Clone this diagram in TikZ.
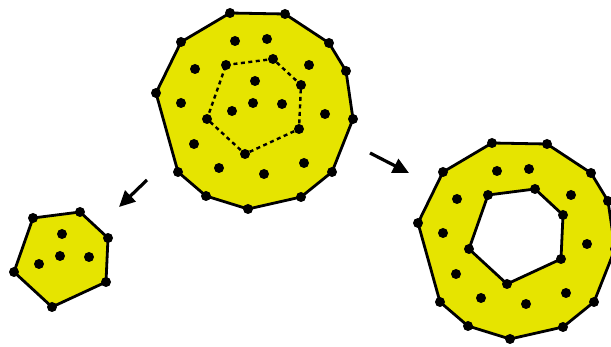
\documentclass[tikz,border=0pt]{standalone}
\definecolor{peelyellow}{RGB}{230,228,0}
\usepackage{tikz}
\usetikzlibrary{arrows.meta}

\begin{document}
\begin{tikzpicture}[x=1pt,y=-1pt,
    dot/.style={circle, fill=black, inner sep=0pt, minimum size=10pt},
    hullline/.style={line width=2.8pt, line join=round},
    peelarrow/.style={line width=3.2pt, -{Triangle[length=16pt,width=15pt]}}]
  \clip (0,0) rectangle (611,347);
  % whole point set with the first convex layer
  \foreach \x/\y [count=\i] in {230/13,285/14,329/43,346/71,353/119,332/172,
                                301/197,248/209,206/196,178/172,156/93,181/42}
    \coordinate (o\i) at (\x,\y);
  \foreach \x/\y [count=\i] in {226/65,273/59,301/85,299/129,245/154,207/119}
    \coordinate (h\i) at (\x,\y);
  \filldraw[fill=peelyellow, hullline] (o1) \foreach \i in {2,...,12}{-- (o\i)} -- cycle;
  \draw[line width=2.4pt, dash pattern=on 4pt off 3.5pt] (h1) \foreach \i in {2,...,6}{-- (h\i)} -- cycle;
  \foreach \i in {1,...,12} \node[dot] (O\i) at (o\i) {};
  \foreach \i in {1,...,6} \node[dot] (H\i) at (h\i) {};
  \foreach \x/\y [count=\i] in {255/81,253/103,232/111,282/104}
    \node[dot] (in\i) at (\x,\y) {};
  \foreach \x/\y [count=\i] in {235/41,267/39,195/69,309/65,181/103,
                                325/114,194/144,219/168,304/163,264/174}
    \node[dot] (mid\i) at (\x,\y) {};

  % inner part
  \begin{scope}[shift={(-193,153)}]
    \foreach \x/\y [count=\i] in {226/65,273/59,301/85,299/129,245/154,207/119}
      \coordinate (lh\i) at (\x,\y);
    \filldraw[fill=peelyellow, hullline] (lh1) \foreach \i in {2,...,6}{-- (lh\i)} -- cycle;
    \foreach \i in {1,...,6} \node[dot] (LH\i) at (lh\i) {};
    \foreach \x/\y [count=\i] in {255/81,253/103,232/111,282/104}
      \node[dot] (lin\i) at (\x,\y) {};
  \end{scope}

  % outer ring
  \begin{scope}[shift={(262,130)}]
    \foreach \x/\y [count=\i] in {230/13,285/14,329/43,346/71,353/119,332/172,
                                  301/197,248/209,206/196,178/172,156/93,181/42}
      \coordinate (ro\i) at (\x,\y);
    \foreach \x/\y [count=\i] in {226/65,273/59,301/85,299/129,245/154,207/119}
      \coordinate (rh\i) at (\x,\y);
    \fill[peelyellow, even odd rule] (ro1) \foreach \i in {2,...,12}{-- (ro\i)} -- cycle
                                     (rh1) \foreach \i in {2,...,6}{-- (rh\i)} -- cycle;
    \draw[hullline] (ro1) \foreach \i in {2,...,12}{-- (ro\i)} -- cycle;
    \draw[hullline] (rh1) \foreach \i in {2,...,6}{-- (rh\i)} -- cycle;
    \foreach \i in {1,...,12} \node[dot] (RO\i) at (ro\i) {};
    \foreach \i in {1,...,6} \node[dot] (RH\i) at (rh\i) {};
    \foreach \x/\y [count=\i] in {235/41,267/39,195/69,309/65,181/103,
                                  325/114,194/144,219/168,304/163,264/174}
      \node[dot] (rmid\i) at (\x,\y) {};
  \end{scope}

  % arrows
  \coordinate (la1) at (147,180);
  \coordinate (la2) at (119,207);
  \coordinate (ra1) at (370,153);
  \coordinate (ra2) at (409,173);
  \draw[peelarrow] (la1) -- (la2);
  \draw[peelarrow] (ra1) -- (ra2);
\end{tikzpicture}
\end{document}
